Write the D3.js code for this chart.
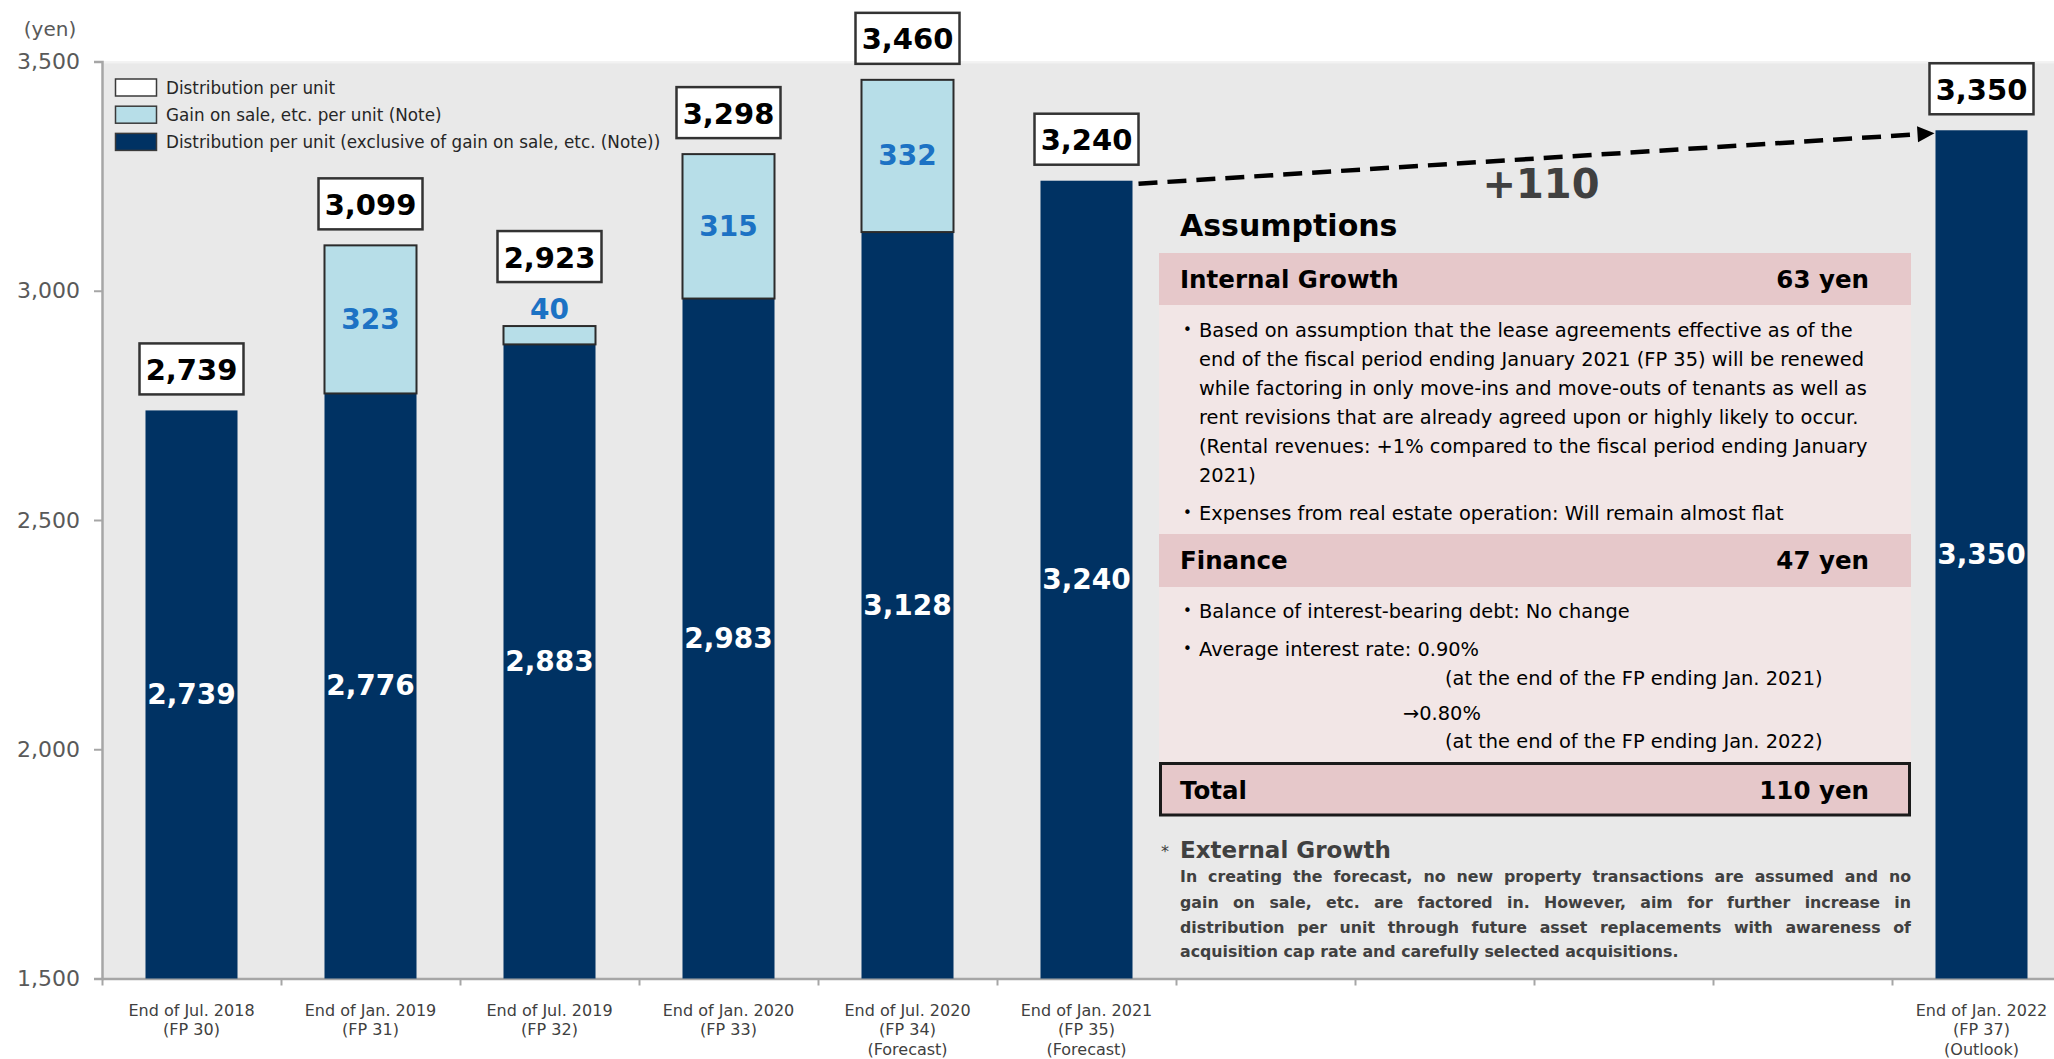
<!DOCTYPE html>
<html>
<head>
<meta charset="utf-8">
<script src="https://cdn.jsdelivr.net/npm/d3@7"></script>
<style>
  html, body { margin: 0; padding: 0; background: #ffffff; }
  svg { display: block; font-family: "DejaVu Sans", Verdana, sans-serif; }
</style>
</head>
<body>
<svg id="chart" width="2054" height="1059"></svg>
<script>
// ---------------- DATA ----------------
const categories = ["FP30", "FP31", "FP32", "FP33", "FP34", "FP35", "g1", "g2", "g3", "g4", "FP37"];
const categoryLabels = [
  ["End of Jul. 2018", "(FP 30)"],
  ["End of Jan. 2019", "(FP 31)"],
  ["End of Jul. 2019", "(FP 32)"],
  ["End of Jan. 2020", "(FP 33)"],
  ["End of Jul. 2020", "(FP 34)", "(Forecast)"],
  ["End of Jan. 2021", "(FP 35)", "(Forecast)"],
  [], [], [], [],
  ["End of Jan. 2022", "(FP 37)", "(Outlook)"]
];
const barCategories = ["FP30", "FP31", "FP32", "FP33", "FP34", "FP35", "FP37"];
const baseValues = [2739, 2776, 2883, 2983, 3128, 3240, 3350];   // exclusive of gain on sale
const gainValues = [0, 323, 40, 315, 332, 0, 0];                  // gain on sale per unit
const totalValues = [2739, 3099, 2923, 3298, 3460, 3240, 3350];  // distribution per unit
const yTicks = [1500, 2000, 2500, 3000, 3500];
const legendLabels = [
  "Distribution per unit",
  "Gain on sale, etc. per unit (Note)",
  "Distribution per unit (exclusive of gain on sale, etc. (Note))"
];
const changeLabel = "+110";

const assumptionsTitle = "Assumptions";
const internalHeader = ["Internal Growth", "63 yen"];
const internalLines = [
  {bullet: true,  text: "Based on assumption that the lease agreements effective as of the"},
  {bullet: false, text: "end of the fiscal period ending January 2021 (FP 35) will be renewed"},
  {bullet: false, text: "while factoring in only move-ins and move-outs of tenants as well as"},
  {bullet: false, text: "rent revisions that are already agreed upon or highly likely to occur."},
  {bullet: false, text: "(Rental revenues: +1% compared to the fiscal period ending January"},
  {bullet: false, text: "2021)"},
  {bullet: true,  text: "Expenses from real estate operation: Will remain almost flat"}
];
const financeHeader = ["Finance", "47 yen"];
const financeLines = [
  {bullet: true,  indent: 0,   text: "Balance of interest-bearing debt: No change"},
  {bullet: true,  indent: 0,   text: "Average interest rate: 0.90%"},
  {bullet: false, indent: 246, text: "(at the end of the FP ending Jan. 2021)"},
  {bullet: false, indent: 204, text: "→0.80%"},
  {bullet: false, indent: 246, text: "(at the end of the FP ending Jan. 2022)"}
];
const totalHeader = ["Total", "110 yen"];
const externalTitle = "External Growth";
const externalLines = [
  "In creating the forecast, no new property transactions are assumed and no",
  "gain on sale, etc. are factored in. However, aim for further increase in",
  "distribution per unit through future asset replacements with awareness of",
  "acquisition cap rate and carefully selected acquisitions."
];

// ---------------- STYLE ----------------
const C = {
  dark: "#003263", light: "#B7DEE8", bg: "#E9E9E9", axis: "#A6A6A6",
  tickText: "#595959", catText: "#404040", gainText: "#1C72C4",
  pinkHead: "#E6C8CA", pinkBody: "#F2E6E6", gray: "#404040"
};
const W = 2054, H = 1059;
const plot = {left: 102, right: 2071, top: 61.5, bottom: 978.5};

const svg = d3.select("#chart");

const x = d3.scaleBand().domain(categories).range([plot.left, plot.right])
  .paddingInner(0.486).paddingOuter(0.243);
const boundary = d3.scaleLinear().domain([0, categories.length]).range([plot.left, plot.right]);
const y = d3.scaleLinear().domain([1500, 3500]).range([plot.bottom, plot.top]);

// plot background
svg.append("rect").attr("x", plot.left).attr("y", plot.top)
  .attr("width", W - plot.left).attr("height", plot.bottom - plot.top).attr("fill", C.bg);
svg.append("line").attr("x1", plot.left).attr("x2", W).attr("y1", plot.top + 1).attr("y2", plot.top + 1)
  .attr("stroke", "#F2F2F2").attr("stroke-width", 2);

// y axis
const yAxis = svg.append("g").attr("transform", `translate(${plot.left},0)`)
  .call(d3.axisLeft(y).tickValues(yTicks).tickFormat(d3.format(",")).tickSize(8).tickPadding(14));
yAxis.select(".domain").attr("stroke", C.axis).attr("stroke-width", 2.5);
yAxis.selectAll(".tick line").attr("stroke", C.axis).attr("stroke-width", 2);
yAxis.selectAll(".tick text").attr("fill", C.tickText).style("font-size", "22px")
  .style("font-family", "DejaVu Sans, Verdana, sans-serif");

svg.append("text").attr("x", 50).attr("y", 29).attr("text-anchor", "middle")
  .attr("dominant-baseline", "central").attr("fill", C.tickText).style("font-size", "20px").text("(yen)");

// x axis (ticks at category boundaries)
const xAxis = svg.append("g").attr("transform", `translate(0,${plot.bottom})`)
  .call(d3.axisBottom(boundary).tickValues(d3.range(0, categories.length + 1)).tickFormat("").tickSize(7).tickSizeOuter(0));
xAxis.select(".domain").attr("stroke", C.axis).attr("stroke-width", 2.5);
xAxis.selectAll(".tick line").attr("stroke", C.axis).attr("stroke-width", 2);

// category labels
categories.forEach((c, i) => {
  const lines = categoryLabels[i];
  const t = svg.append("text").attr("x", x(c) + x.bandwidth() / 2).attr("y", 1010)
    .attr("text-anchor", "middle").attr("fill", C.catText).style("font-size", "16px");
  lines.forEach((l, j) => t.append("tspan").attr("x", x(c) + x.bandwidth() / 2)
    .attr("y", 1010 + j * 19.5).attr("dominant-baseline", "central").text(l));
});

// bars
const bars = barCategories.map((c, i) => ({c, base: baseValues[i], gain: gainValues[i], total: totalValues[i]}));
const bw = x.bandwidth();
const g = svg.append("g");
g.selectAll("rect.base").data(bars).join("rect").attr("class", "base")
  .attr("x", d => x(d.c)).attr("width", bw)
  .attr("y", d => y(d.base)).attr("height", d => y(1500) - y(d.base))
  .attr("fill", C.dark);
g.selectAll("rect.gain").data(bars.filter(d => d.gain > 0)).join("rect").attr("class", "gain")
  .attr("x", d => x(d.c)).attr("width", bw)
  .attr("y", d => y(d.base + d.gain)).attr("height", d => y(d.base) - y(d.base + d.gain))
  .attr("fill", C.light).attr("stroke", "#2B2B2B").attr("stroke-width", 2);

// inner labels
g.selectAll("text.base").data(bars).join("text").attr("class", "base")
  .attr("x", d => x(d.c) + bw / 2).attr("y", d => (y(d.base) + y(1500)) / 2)
  .attr("text-anchor", "middle").attr("dominant-baseline", "central")
  .attr("fill", "#ffffff").style("font-size", "28px").style("font-weight", "bold")
  .text(d => d3.format(",")(d.base));

const smallGain = d => (y(d.base) - y(d.base + d.gain)) < 30;
g.selectAll("text.gain").data(bars.filter(d => d.gain > 0)).join("text").attr("class", "gain")
  .attr("x", d => x(d.c) + bw / 2)
  .attr("y", d => smallGain(d) ? y(d.total) - 17 : (y(d.base) + y(d.total)) / 2)
  .attr("text-anchor", "middle").attr("dominant-baseline", "central")
  .attr("fill", C.gainText).style("font-size", "28px").style("font-weight", "bold")
  .text(d => d3.format(",")(d.gain));

// total boxes
const boxW = 104, boxH = 51;
const boxBottom = d => (d.gain > 0 && smallGain(d)) ? y(d.total) - 44 : y(d.total) - 16;
const tb = g.selectAll("g.total").data(bars).join("g").attr("class", "total");
tb.append("rect").attr("x", d => x(d.c) + bw / 2 - boxW / 2).attr("y", d => boxBottom(d) - boxH)
  .attr("width", boxW).attr("height", boxH).attr("fill", "#ffffff")
  .attr("stroke", "#333333").attr("stroke-width", 2.5);
tb.append("text").attr("x", d => x(d.c) + bw / 2).attr("y", d => boxBottom(d) - boxH / 2 + 1)
  .attr("text-anchor", "middle").attr("dominant-baseline", "central")
  .attr("fill", "#000000").style("font-size", "29px").style("font-weight", "bold")
  .text(d => d3.format(",")(d.total));

// legend
const legendFills = ["#ffffff", C.light, C.dark];
const lg = svg.append("g");
legendLabels.forEach((l, i) => {
  const cy = 87.5 + i * 27.2;
  lg.append("rect").attr("x", 115.5).attr("y", cy - 8.5).attr("width", 41).attr("height", 17)
    .attr("fill", legendFills[i]).attr("stroke", "#3A3A3A").attr("stroke-width", 1.5);
  lg.append("text").attr("x", 166).attr("y", cy).attr("dominant-baseline", "central")
    .attr("fill", "#262626").style("font-size", "16.8px").text(l);
});

// dashed arrow from FP35 to FP37
const b35 = bars.find(d => d.c === "FP35"), b37 = bars.find(d => d.c === "FP37");
const x1 = x("FP35") + bw + 6, y1 = y(b35.total) + 3;
const x2 = x("FP37") - 1, y2 = y(b37.total) + 3;
const ang = Math.atan2(y2 - y1, x2 - x1);
const headL = 17, headW = 8;
svg.append("line").attr("x1", x1).attr("y1", y1)
  .attr("x2", x2 - headL * Math.cos(ang)).attr("y2", y2 - headL * Math.sin(ang))
  .attr("stroke", "#000").attr("stroke-width", 4.5).attr("stroke-dasharray", "19,10");
const bx = x2 - headL * Math.cos(ang), by = y2 - headL * Math.sin(ang);
svg.append("path").attr("d", `M${x2},${y2} L${bx - headW * Math.sin(ang)},${by + headW * Math.cos(ang)} L${bx + headW * Math.sin(ang)},${by - headW * Math.cos(ang)} Z`)
  .attr("fill", "#000");
svg.append("text").attr("x", 1541).attr("y", 184).attr("text-anchor", "middle")
  .attr("dominant-baseline", "central").attr("fill", C.gray)
  .style("font-size", "40px").style("font-weight", "bold").text(changeLabel);

// ---------------- ASSUMPTIONS PANEL ----------------
const P = {x0: 1159, x1: 1911, tx: 1180, rx: 1869};
const pg = svg.append("g");
pg.append("text").attr("x", P.tx).attr("y", 225).attr("dominant-baseline", "central")
  .style("font-size", "30px").style("font-weight", "bold").attr("fill", "#000").text(assumptionsTitle);

function header(y0, y1, labels) {
  pg.append("rect").attr("x", P.x0).attr("y", y0).attr("width", P.x1 - P.x0).attr("height", y1 - y0).attr("fill", C.pinkHead);
  pg.append("text").attr("x", P.tx).attr("y", (y0 + y1) / 2).attr("dominant-baseline", "central")
    .style("font-size", "24.5px").style("font-weight", "bold").text(labels[0]);
  pg.append("text").attr("x", P.rx).attr("y", (y0 + y1) / 2).attr("dominant-baseline", "central")
    .attr("text-anchor", "end").style("font-size", "24.5px").style("font-weight", "bold").text(labels[1]);
}
function body(y0, y1) {
  pg.append("rect").attr("x", P.x0).attr("y", y0).attr("width", P.x1 - P.x0).attr("height", y1 - y0).attr("fill", C.pinkBody);
}
function bodyLine(yy, item) {
  if (item.bullet) pg.append("text").attr("x", 1183).attr("y", yy).attr("dominant-baseline", "central")
    .style("font-size", "15px").text("•");
  pg.append("text").attr("x", 1199 + (item.indent || 0)).attr("y", yy).attr("dominant-baseline", "central")
    .style("font-size", "19.4px").attr("fill", "#000").text(item.text);
}

body(305, 534);
header(253, 305, internalHeader);
const internalY = [330, 359, 388, 417, 446, 475, 513];
internalLines.forEach((l, i) => bodyLine(internalY[i], l));

body(587, 762);
header(534, 587, financeHeader);
const financeY = [611, 649, 678, 713, 741];
financeLines.forEach((l, i) => bodyLine(financeY[i], l));

pg.append("rect").attr("x", 1160.5).attr("y", 763.5).attr("width", 749).attr("height", 51.5)
  .attr("fill", C.pinkHead).attr("stroke", "#1A1A1A").attr("stroke-width", 3);
pg.append("text").attr("x", P.tx).attr("y", 790).attr("dominant-baseline", "central")
  .style("font-size", "24.5px").style("font-weight", "bold").text(totalHeader[0]);
pg.append("text").attr("x", P.rx).attr("y", 790).attr("dominant-baseline", "central").attr("text-anchor", "end")
  .style("font-size", "24.5px").style("font-weight", "bold").text(totalHeader[1]);

pg.append("text").attr("x", 1165).attr("y", 851).attr("text-anchor", "middle").attr("dominant-baseline", "central")
  .attr("fill", C.gray).style("font-size", "16px").text("*");
pg.append("text").attr("x", P.tx).attr("y", 850).attr("dominant-baseline", "central")
  .attr("fill", C.gray).style("font-size", "23px").style("font-weight", "bold").text(externalTitle);

// justified paragraph
const paraY = [876, 902, 927, 951];
const paraFont = "15.8px";
externalLines.forEach((line, i) => {
  const words = line.split(" ");
  const widths = words.map(w => {
    const t = pg.append("text").style("font-size", paraFont).style("font-weight", "bold").text(w);
    const wd = t.node().getComputedTextLength(); t.remove(); return wd;
  });
  const spaceT = pg.append("text").style("font-size", paraFont).style("font-weight", "bold").text("a a");
  const aT = pg.append("text").style("font-size", paraFont).style("font-weight", "bold").text("aa");
  const sp = spaceT.node().getComputedTextLength() - aT.node().getComputedTextLength();
  spaceT.remove(); aT.remove();
  const last = i === externalLines.length - 1;
  const total = d3.sum(widths);
  const gap = last ? sp : (P.x1 - P.tx - total) / (words.length - 1);
  let cx = P.tx;
  words.forEach((w, k) => {
    pg.append("text").attr("x", cx).attr("y", paraY[i]).attr("dominant-baseline", "central")
      .attr("fill", C.gray).style("font-size", paraFont).style("font-weight", "bold").text(w);
    cx += widths[k] + gap;
  });
});
</script>
</body>
</html>
